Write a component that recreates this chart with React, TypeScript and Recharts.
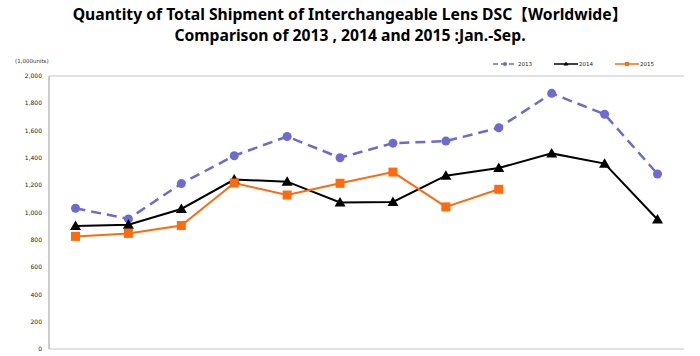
import { LineChart, Line, XAxis, YAxis, CartesianGrid } from 'recharts';

const months = ['Jan', 'Feb', 'Mar', 'Apr', 'May', 'Jun', 'Jul', 'Aug', 'Sep', 'Oct', 'Nov', 'Dec'];
const s2013 = [1031, 953, 1212, 1416, 1557, 1401, 1508, 1523, 1620, 1873, 1720, 1282];
const s2014 = [902, 910, 1026, 1241, 1226, 1073, 1077, 1270, 1326, 1433, 1358, 949];
const s2015 = [825, 847, 905, 1216, 1128, 1214, 1296, 1041, 1170];
const yTicks = [0, 200, 400, 600, 800, 1000, 1200, 1400, 1600, 1800, 2000];

const data = months.map((m, i) => ({
  month: m,
  y2013: s2013[i],
  y2014: s2014[i],
  y2015: i < s2015.length ? s2015[i] : null,
}));

const C13 = '#6b6bd0';
const C14 = '#000000';
const C15 = '#ff6a0d';

const Triangle = (props: any) => {
  const { cx, cy } = props;
  if (cx == null || cy == null) return null;
  return <path d={`M${cx},${cy - 5.5} L${cx + 5.5},${cy + 4} L${cx - 5.5},${cy + 4} Z`} fill={C14} />;
};

const Square = (props: any) => {
  const { cx, cy } = props;
  if (cx == null || cy == null) return null;
  return <rect x={cx - 4.5} y={cy - 4.5} width={9} height={9} fill={C15} />;
};

const legendItems = [
  { label: '2013', color: C13, dash: '5 3', mark: 'circle' },
  { label: '2014', color: C14, dash: undefined, mark: 'triangle' },
  { label: '2015', color: C15, dash: undefined, mark: 'square' },
];

const ChartLegend = () => (
  <div style={{ position: 'absolute', left: 493, top: 61, display: 'flex', fontFamily: 'DejaVu Sans', fontSize: 5.5, color: '#222' }}>
    {legendItems.map((it) => (
      <div key={it.label} style={{ display: 'flex', alignItems: 'center', width: 61 }}>
        <svg width={24} height={6}>
          <line x1={0} y1={3} x2={24} y2={3} stroke={it.color} strokeWidth={1.5} strokeDasharray={it.dash} />
          {it.mark === 'circle' && <circle cx={12} cy={3} r={2} fill={it.color} />}
          {it.mark === 'triangle' && <path d="M12,0.5 L14.5,4.5 L9.5,4.5 Z" fill={it.color} />}
          {it.mark === 'square' && <rect x={10} y={1} width={4} height={4} fill={it.color} />}
        </svg>
        <span style={{ marginLeft: 1 }}>{it.label}</span>
      </div>
    ))}
  </div>
);

export default function App() {
  return (
    <div style={{ position: 'absolute', left: 0, top: 0, width: 700, height: 356, background: '#fff' }}>
      <div
        style={{
          position: 'absolute',
          left: 0,
          top: 4,
          width: 700,
          textAlign: 'center',
          fontFamily: '"Noto Sans", "Noto Sans CJK JP", sans-serif',
          fontWeight: 700,
          fontSize: 15.7,
          lineHeight: '21px',
          color: '#000',
        }}
      >
        <div>Quantity of Total Shipment of Interchangeable Lens DSC【Worldwide】</div>
        <div>Comparison of 2013 , 2014 and 2015 :Jan.-Sep.</div>
      </div>
      <div
        style={{
          position: 'absolute',
          left: 15,
          top: 58,
          fontFamily: 'DejaVu Sans',
          fontSize: 5.5,
          color: '#333',
        }}
      >
        (1,000units)
      </div>
      <LineChart width={700} height={356} data={data} margin={{ top: 76, right: 16, bottom: 7, left: 0 }}>
        <CartesianGrid vertical={false} stroke="#c4c4c4" strokeWidth={1} />
        <XAxis dataKey="month" hide padding={{ left: 26.5, right: 26.5 }} />
        <YAxis
          yAxisId="l"
          width={49}
          domain={[0, 2000]}
          ticks={yTicks}
          interval={0}
          tickFormatter={(v: number) => v.toLocaleString('en-US')}
          tick={{ fontSize: 6, fill: '#222', fontFamily: 'DejaVu Sans' }}
          tickLine={false}
          tickSize={5}
          tickMargin={2}
          axisLine={{ stroke: '#999' }}
        />
        <YAxis yAxisId="r" orientation="right" width={0} domain={[0, 2000]} tick={false} tickLine={false} axisLine={{ stroke: '#aaa' }} />
        <Line
          yAxisId="l"
          dataKey="y2013"
          name="2013"
          stroke={C13}
          strokeWidth={2.5}
          strokeDasharray="10 6"
          dot={{ r: 4.5, fill: C13, stroke: C13, strokeWidth: 0 }}
          isAnimationActive={false}
        />
        <Line
          yAxisId="l"
          dataKey="y2014"
          name="2014"
          stroke={C14}
          strokeWidth={2}
          dot={<Triangle />}
          isAnimationActive={false}
        />
        <Line
          yAxisId="l"
          dataKey="y2015"
          name="2015"
          stroke={C15}
          strokeWidth={2}
          dot={<Square />}
          isAnimationActive={false}
        />
      </LineChart>
      <ChartLegend />
    </div>
  );
}
